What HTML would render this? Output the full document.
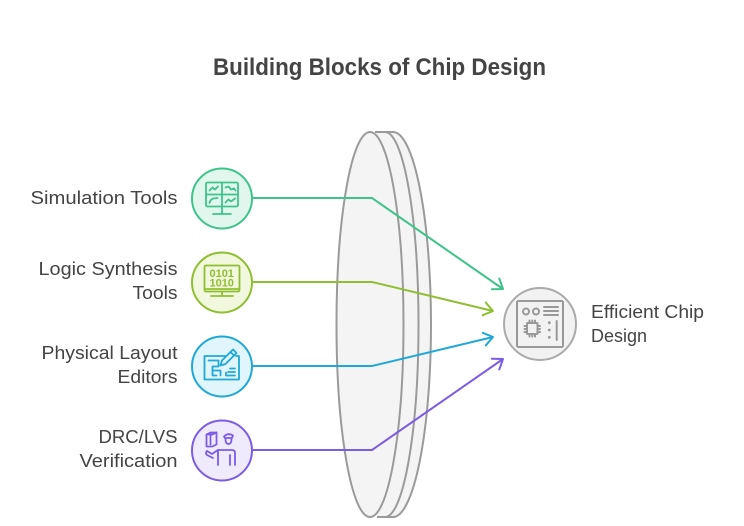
<!DOCTYPE html>
<html>
<head>
<meta charset="utf-8">
<style>
  html, body { margin: 0; padding: 0; background: #ffffff; }
  svg { display: block; }
  text { font-family: "Liberation Sans", Arial, sans-serif; fill: #444444; }
</style>
</head>
<body>
<svg width="744" height="526" viewBox="0 0 744 526" xmlns="http://www.w3.org/2000/svg">
  <defs>
    <marker id="mg" markerUnits="userSpaceOnUse" markerWidth="24" markerHeight="24" refX="0" refY="0" viewBox="-12 -12 24 24" orient="auto" overflow="visible">
      <path d="M-9,-6.5 L0,0 L-9,6.5" fill="none" stroke="#3ec38a" stroke-width="2" stroke-linecap="round" stroke-linejoin="round"/>
    </marker>
    <marker id="my" markerUnits="userSpaceOnUse" markerWidth="24" markerHeight="24" refX="0" refY="0" viewBox="-12 -12 24 24" orient="auto" overflow="visible">
      <path d="M-9,-6.5 L0,0 L-9,6.5" fill="none" stroke="#8fbe30" stroke-width="2" stroke-linecap="round" stroke-linejoin="round"/>
    </marker>
    <marker id="mb" markerUnits="userSpaceOnUse" markerWidth="24" markerHeight="24" refX="0" refY="0" viewBox="-12 -12 24 24" orient="auto" overflow="visible">
      <path d="M-9,-6.5 L0,0 L-9,6.5" fill="none" stroke="#1fa8d8" stroke-width="2" stroke-linecap="round" stroke-linejoin="round"/>
    </marker>
    <marker id="mp" markerUnits="userSpaceOnUse" markerWidth="24" markerHeight="24" refX="0" refY="0" viewBox="-12 -12 24 24" orient="auto" overflow="visible">
      <path d="M-9,-6.5 L0,0 L-9,6.5" fill="none" stroke="#7b5ce5" stroke-width="2" stroke-linecap="round" stroke-linejoin="round"/>
    </marker>
  </defs>

  <!-- Title -->
  <text x="213" y="75" font-size="24" font-weight="bold" textLength="333" lengthAdjust="spacingAndGlyphs">Building Blocks of Chip Design</text>

  <!-- Lens -->
  <path d="M375,132 L393,132 A38,192.5 0 0 1 393,517 L377,517 Z" fill="#f4f4f4" stroke="none"/>
  <path d="M375,132 L393,132 A38,192.5 0 0 1 393,517 L377,517" fill="none" stroke="#9a9a9a" stroke-width="2"/>
  <path d="M385,132 A33.5,192.5 0 0 1 385,517" fill="none" stroke="#9a9a9a" stroke-width="2"/>
  <ellipse cx="370" cy="324.5" rx="33.5" ry="192.5" fill="#f4f4f4" stroke="#9a9a9a" stroke-width="2"/>

  <!-- Connectors -->
  <polyline points="252,198 372,198 503,289" fill="none" stroke="#3ec38a" stroke-width="2" marker-end="url(#mg)"/>
  <polyline points="252,282 372,282 493,311" fill="none" stroke="#8fbe30" stroke-width="2" marker-end="url(#my)"/>
  <polyline points="252,366 372,366 493,337" fill="none" stroke="#1fa8d8" stroke-width="2" marker-end="url(#mb)"/>
  <polyline points="252,450 372,450 503,359" fill="none" stroke="#7b5ce5" stroke-width="2" marker-end="url(#mp)"/>

  <!-- Left circles -->
  <circle cx="222" cy="198.5" r="30" fill="#e1f7ee" stroke="#3ec38a" stroke-width="2"/>
  <circle cx="222" cy="282.5" r="30" fill="#f1f8dd" stroke="#8fbe30" stroke-width="2"/>
  <circle cx="222" cy="366.5" r="30" fill="#e1f5fc" stroke="#1fa8d8" stroke-width="2"/>
  <circle cx="222" cy="450.5" r="30" fill="#efebfd" stroke="#7b5ce5" stroke-width="2"/>

  <!-- Icon 1: simulation monitor -->
  <g fill="none" stroke="#3ec38a" stroke-width="1.8" stroke-linecap="round" stroke-linejoin="round">
    <rect x="206" y="182.5" width="32" height="24" rx="1.5"/>
    <line x1="222" y1="182.5" x2="222" y2="206.5"/>
    <line x1="206" y1="194.5" x2="238" y2="194.5"/>
    <line x1="222" y1="206.5" x2="222" y2="213.5"/>
    <line x1="213" y1="214" x2="231" y2="214"/>
    <path d="M209.5,190.5 l3,-3 l2.5,2 l3,-3"/>
    <path d="M225.5,187.5 l3,-1 l2.5,3 l3,-1 l1.5,2"/>
    <path d="M209.5,203 q1,-4 4,-4.5 l4,-0.5"/>
    <path d="M225.5,202.5 l3,-3 l2.5,2 l4,-3"/>
  </g>

  <!-- Icon 2: logic synthesis -->
  <g fill="none" stroke="#8fbe30" stroke-width="1.8" stroke-linecap="round" stroke-linejoin="round">
    <rect x="204.5" y="265.5" width="35" height="26" rx="1.5"/>
    <line x1="204.5" y1="289" x2="239.5" y2="289"/>
    <line x1="222" y1="291.5" x2="222" y2="296"/>
    <line x1="211" y1="296" x2="233" y2="296"/>
  </g>
  <text x="221.7" y="277" font-family="Liberation Mono, monospace" font-size="11" font-weight="bold" text-anchor="middle" style="fill:#8fbe30">0101</text>
  <text x="221.7" y="286.3" font-family="Liberation Mono, monospace" font-size="11" font-weight="bold" text-anchor="middle" style="fill:#8fbe30">1010</text>

  <!-- Icon 3: layout editor -->
  <g fill="none" stroke="#1fa8d8" stroke-width="1.8" stroke-linecap="round" stroke-linejoin="round">
    <path d="M226,356 L204.5,356 L204.5,379.5 L239,379.5 L239,356 L236,356"/>
    <path d="M208.5,360.5 h10 v6 h-6 v9 h4"/>
    <path d="M212.5,370.5 h8 v5"/>
    <path d="M226,375.5 h9 M228,372 h7 M230,368.5 h5 M226,375.5 v-3"/>
    <path d="M220.5,365.5 l1.5,-5 l11,-11 l3.5,3.5 l-11,11 z"/>
    <line x1="230.5" y1="352" x2="234" y2="355.5"/>
  </g>

  <!-- Icon 4: verification person -->
  <g fill="none" stroke="#7b5ce5" stroke-width="1.8" stroke-linecap="round" stroke-linejoin="round">
    <path d="M206.5,434.5 l4,-2 h6 v12 l-4,2 h-6 z"/>
    <path d="M210.5,432.5 v12 M206.5,434.5 h6 l4,-2"/>
    <path d="M224,436.5 q4,-4 9,-1 l-1,2.5 h-7 z"/>
    <path d="M225.5,439 q0,5 3,5 q3,0 3,-5"/>
    <path d="M207,451 l5,3 l6,-4 h14 q3,0 3,3 v12"/>
    <path d="M218,450 v15 M230,455 v10"/>
    <path d="M207,451 q-2,2 0,4 l6,3"/>
  </g>

  <!-- Target circle -->
  <circle cx="540" cy="324" r="36" fill="#f2f2f2" stroke="#aaaaaa" stroke-width="2"/>
  <g fill="none" stroke="#999999" stroke-width="2" stroke-linecap="round" stroke-linejoin="round">
    <rect x="517" y="301" width="46" height="46" rx="1.5"/>
    <circle cx="526" cy="311.5" r="3"/>
    <circle cx="536" cy="311.5" r="3"/>
    <line x1="544" y1="307" x2="558" y2="307"/>
    <line x1="544" y1="311" x2="558" y2="311"/>
    <line x1="544" y1="315" x2="558" y2="315"/>
    <rect x="527" y="323" width="10.5" height="11" rx="0.5"/>
    <path d="M529.5,323 v-2.5 M532.3,323 v-2.5 M535,323 v-2.5 M529.5,334 v2.5 M532.3,334 v2.5 M535,334 v2.5 M527,326 h-2.5 M527,329 h-2.5 M527,332 h-2.5 M537.5,326 h2.5 M537.5,329 h2.5 M537.5,332 h2.5"/>
    <line x1="556.7" y1="321" x2="556.7" y2="340"/>
  </g>
  <g fill="#999999">
    <circle cx="549.3" cy="322.7" r="1.4"/>
    <circle cx="549.3" cy="330" r="1.4"/>
    <circle cx="549.3" cy="337.3" r="1.4"/>
  </g>

  <!-- Labels -->
  <g font-size="18">
    <text x="177.5" y="204" text-anchor="end" textLength="147" lengthAdjust="spacingAndGlyphs">Simulation Tools</text>
    <text x="177.5" y="275" text-anchor="end" textLength="139" lengthAdjust="spacingAndGlyphs">Logic Synthesis</text>
    <text x="177.5" y="299" text-anchor="end" textLength="45" lengthAdjust="spacingAndGlyphs">Tools</text>
    <text x="177.5" y="359" text-anchor="end" textLength="136" lengthAdjust="spacingAndGlyphs">Physical Layout</text>
    <text x="177.5" y="383" text-anchor="end" textLength="60" lengthAdjust="spacingAndGlyphs">Editors</text>
    <text x="177.5" y="443" text-anchor="end" textLength="79" lengthAdjust="spacingAndGlyphs">DRC/LVS</text>
    <text x="177.5" y="467" text-anchor="end" textLength="98" lengthAdjust="spacingAndGlyphs">Verification</text>
    <text x="591" y="318" textLength="113" lengthAdjust="spacingAndGlyphs">Efficient Chip</text>
    <text x="591" y="342" textLength="56" lengthAdjust="spacingAndGlyphs">Design</text>
  </g>
</svg>
</body>
</html>
